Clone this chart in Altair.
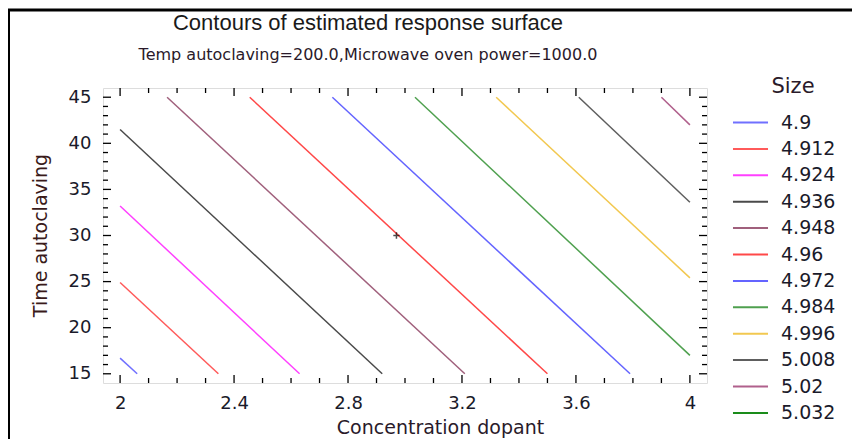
import altair as alt
import pandas as pd

# ---- data ----
levels = ["4.9", "4.912", "4.924", "4.936", "4.948", "4.96",
          "4.972", "4.984", "4.996", "5.008", "5.02", "5.032"]
colors = ["#7070ff", "#ff5a5a", "#ff40ff", "#4a4a4a", "#a0607c", "#ff4848",
          "#6464ff", "#4fa04f", "#f2c850", "#5e5e5e", "#b0608c", "#1a8c1a"]

line_level = ["4.9", "4.912", "4.924", "4.936", "4.948", "4.96",
              "4.972", "4.984", "4.996", "5.008", "5.02"]
x_start = [2.0, 2.0, 2.0, 2.0, 2.165, 2.455, 2.745, 3.035, 3.32, 3.61, 3.90]
y_start = [16.7, 24.9, 33.2, 41.5, 45.0, 45.0, 45.0, 45.0, 45.0, 45.0, 45.0]
x_end = [2.06, 2.345, 2.63, 2.92, 3.21, 3.50, 3.79, 4.0, 4.0, 4.0, 4.0]
y_end = [15.0, 15.0, 15.0, 15.0, 15.0, 15.0, 15.0, 17.0, 25.4, 33.6, 42.0]

center_x = [2.97]
center_y = [30.0]

x_major = [2.0, 2.4, 2.8, 3.2, 3.6, 4.0]
x_minor = [2.1, 2.2, 2.3, 2.5, 2.6, 2.7, 2.9, 3.0, 3.1, 3.3, 3.4, 3.5,
           3.7, 3.8, 3.9]
y_major = [15, 20, 25, 30, 35, 40, 45]
y_minor = [16, 17, 18, 19, 21, 22, 23, 24, 26, 27, 28, 29, 31, 32, 33, 34,
           36, 37, 38, 39, 41, 42, 43, 44]

title_text = "Contours of estimated response surface"
subtitle_text = "Temp autoclaving=200.0,Microwave oven power=1000.0"
x_title = "Concentration dopant"
y_title = "Time autoclaving"
legend_title = "Size"

# ---- build tables ----
rows = []
for lv, xs, ys, xe, ye in zip(line_level, x_start, y_start, x_end, y_end):
    rows.append({"level": lv, "x": xs, "y": ys, "o": 0})
    rows.append({"level": lv, "x": xe, "y": ye, "o": 1})
lines_df = pd.DataFrame(rows)

W, H = 604, 295
FONT = "DejaVu Sans"
TFONT = "Liberation Sans"
xscale = alt.Scale(domain=[1.94, 4.06], nice=False, zero=False)
yscale = alt.Scale(domain=[14, 46], nice=False, zero=False)

lines = alt.Chart(lines_df).mark_line(strokeWidth=1.5).encode(
    x=alt.X("x:Q", scale=xscale, title=x_title,
            axis=alt.Axis(values=x_major, format="~g", ticks=False, domain=False,
                          grid=False, tickSize=0, labelPadding=11, labelFontSize=18,
                          labelFont=FONT, labelColor="#1a1a2a", titleFont=FONT,
                          titleFontSize=19, titleFontWeight="normal",
                          titleColor="#2a1a2a", titleX=337, titleY=50,
                          titleAlign="center", titleBaseline="alphabetic")),
    y=alt.Y("y:Q", scale=yscale, title=y_title,
            axis=alt.Axis(values=y_major, ticks=False, domain=False, grid=False,
                          tickSize=0, labelPadding=12, labelFontSize=18,
                          labelFont=FONT, labelColor="#1a1a2a", titleFont=FONT,
                          titleFontSize=19, titleFontWeight="normal",
                          titleColor="#3a1a1a", titleX=-57, titleY=147,
                          titleAlign="center", titleBaseline="alphabetic",
                          titleAngle=270)),
    color=alt.Color("level:N", scale=alt.Scale(domain=levels, range=colors),
                    legend=alt.Legend(orient="none", legendX=634, legendY=21,
                                      title=None, symbolType="M-1.43,0H1.43",
                                      symbolSize=600, symbolStrokeWidth=2,
                                      labelFont=FONT, labelFontSize=19,
                                      labelColor="#1a1a2a", labelOffset=17,
                                      rowPadding=2.4, padding=0)),
    detail="level:N",
    order="o:Q",
)

center = alt.Chart(pd.DataFrame({"x": center_x, "y": center_y})).mark_point(
    shape="M-1,0H1M0,-1V1", size=40, stroke="black", strokeWidth=1.5, filled=False
).encode(x=alt.X("x:Q", scale=xscale, title=x_title),
         y=alt.Y("y:Q", scale=yscale, title=y_title))


def xticks(vals, y0, y1):
    return alt.Chart(pd.DataFrame({"x": vals})).mark_rule(
        color="black", strokeWidth=1.3).encode(
        x=alt.X("x:Q", scale=xscale, title=x_title),
        y=alt.value(y0), y2=alt.value(y1))


def yticks(vals, x0, x1):
    return alt.Chart(pd.DataFrame({"y": vals})).mark_rule(
        color="black", strokeWidth=1.3).encode(
        y=alt.Y("y:Q", scale=yscale, title=y_title),
        x=alt.value(x0), x2=alt.value(x1))


ticks = [
    xticks(x_major, H, H - 8), xticks(x_minor, H, H - 5),
    xticks(x_major, 0, 8), xticks(x_minor, 0, 5),
    yticks(y_major, 0, 8), yticks(y_minor, 0, 5),
    yticks(y_major, W, W - 8), yticks(y_minor, W, W - 5),
]

title = alt.Chart(pd.DataFrame({"t": [title_text]})).mark_text(
    font=TFONT, fontSize=22, color="#1a1a1a", align="center",
    baseline="alphabetic").encode(text="t:N", x=alt.value(265), y=alt.value(-58))
sub = alt.Chart(pd.DataFrame({"t": [subtitle_text]})).mark_text(
    font=FONT, fontSize=16, color="#2a1a2a", align="center",
    baseline="alphabetic").encode(text="t:N", x=alt.value(265), y=alt.value(-28))
ltitle = alt.Chart(pd.DataFrame({"t": [legend_title]})).mark_text(
    font=FONT, fontSize=21, color="#2a1a2a", align="center",
    baseline="alphabetic").encode(text="t:N", x=alt.value(690), y=alt.value(5))

border_left = alt.Chart(pd.DataFrame({"a": [0]})).mark_rule(
    color="black", strokeWidth=3).encode(
    x=alt.value(-94.5), y=alt.value(-79), y2=alt.value(360))
border_top = alt.Chart(pd.DataFrame({"a": [0]})).mark_rule(
    color="black", strokeWidth=3).encode(
    x=alt.value(-96), x2=alt.value(760), y=alt.value(-78))

chart = alt.layer(lines, center, *ticks, title, sub, ltitle,
                  border_left, border_top).properties(
    width=W, height=H,
    padding={"left": 95, "top": 80, "right": 145, "bottom": 56},
    autosize=alt.AutoSizeParams(type="none"),
).configure_view(stroke="black", strokeWidth=1.5).configure(background="white")

chart.save("out.html", embed_options={"renderer": "svg", "actions": False})
